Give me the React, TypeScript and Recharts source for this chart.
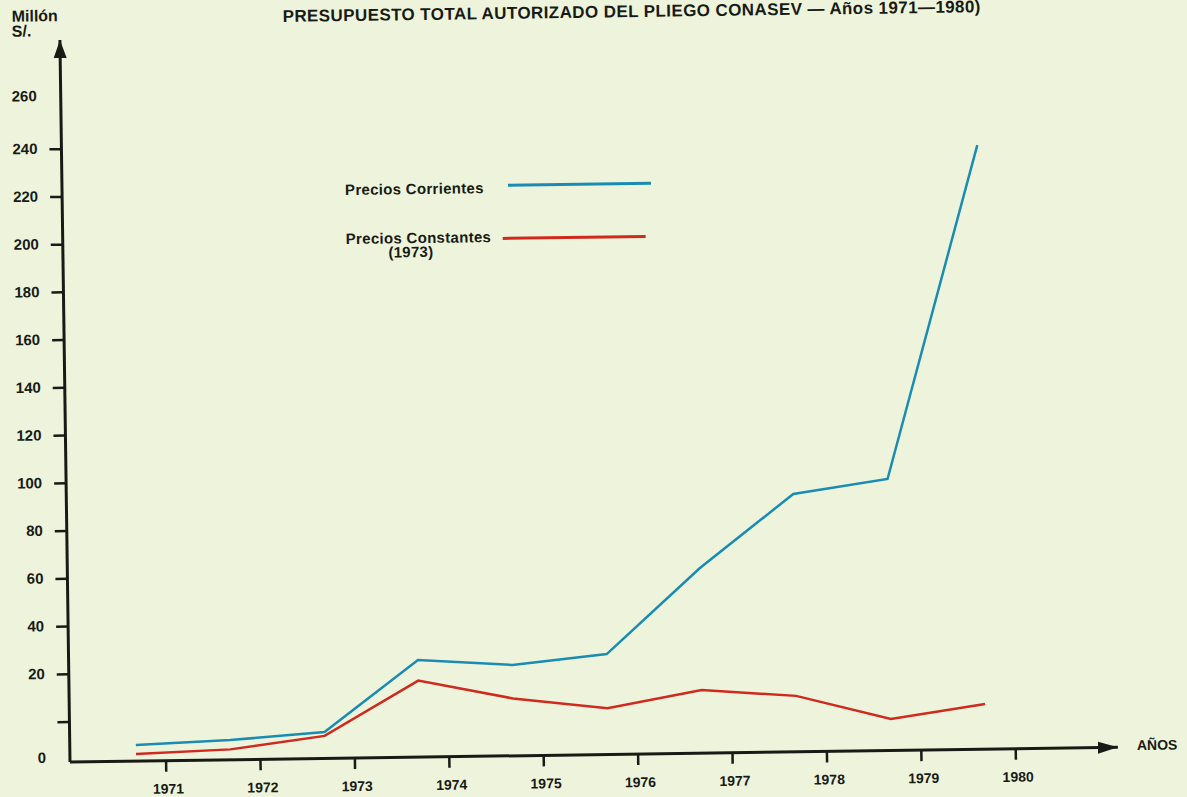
import React from "react";
import { LineChart, Line, XAxis, YAxis, Legend } from "recharts";

// años y presupuesto (millones de S/.)
const years = [1971, 1972, 1973, 1974, 1975, 1976, 1977, 1978, 1979, 1980];
const corrientes = [-10.0, -8.5, -5.7, 23.9, 21.3, 25.3, 60.8, 91.3, 97.0, 236.3];
const constantes = [-13.8, -12.4, -7.3, 15.3, 7.3, 2.6, 9.7, 6.7, -3.5, 2.2];

// the drawing puts its "0" label on the baseline, below the real zero tick
const Y_BOTTOM = -16.75;
const Y_TOP = 285.7;
const yTicks = [Y_BOTTOM, 0, 20, 40, 60, 80, 100, 120, 140, 160, 180, 200, 220, 240, 260];
const yTickLabels = ["0", "", "20", "40", "60", "80", "100", "120", "140", "160", "180", "200", "220", "240", "260"];

const TITLE = "PRESUPUESTO TOTAL AUTORIZADO DEL PLIEGO CONASEV — Años 1971—1980)";
const FONT = '"Liberation Sans", Arial, sans-serif';
const INK = "#181b15";
const BLUE = "#1a8cb3";
const RED = "#d02a1f";
const PAPER = "#eef4dc";

const data = years.map((year, i) => ({
  year,
  corrientes: corrientes[i],
  constantes: constantes[i],
}));

function YTick(props: any) {
  const { x, y, payload } = props;
  const i = yTicks.indexOf(payload.value);
  const label = yTickLabels[i] ?? "";
  const hasMark = payload.value !== Y_BOTTOM && payload.value !== 260;
  const dy = payload.value === 260 ? -6 : payload.value === Y_BOTTOM ? -5 : -1;
  return (
    <g>
      {hasMark && <line x1={x - 12} y1={y} x2={x} y2={y} stroke={INK} strokeWidth={2.5} />}
      {label && (
        <text
          x={x - 24}
          y={y + dy}
          textAnchor="end"
          dominantBaseline="central"
          fontFamily={FONT}
          fontWeight={700}
          fontSize={15}
          fill={INK}
        >
          {label}
        </text>
      )}
    </g>
  );
}

function XTick(props: any) {
  const { x, y, payload } = props;
  // year marks sit ~30px right of the plotted points in the original
  return (
    <g>
      <line x1={x + 30} y1={y} x2={x + 30} y2={y + 11} stroke={INK} strokeWidth={2.5} />
      <text
        x={x + 32}
        y={y + 28}
        textAnchor="middle"
        dominantBaseline="central"
        fontFamily={FONT}
        fontWeight={700}
        fontSize={14}
        fill={INK}
      >
        {payload.value}
      </text>
    </g>
  );
}

function LegendBox(props: any) {
  const items = props.payload || [];
  return (
    <div style={{ position: "relative", width: 330, height: 80, fontFamily: FONT, fontWeight: 700, fontSize: 15, color: INK }}>
      {items.map((it: any) => {
        const first = it.dataKey === "corrientes";
        const [main, sub] = String(it.value).split(" (");
        const top = first ? 14 : 63;
        const lineY = first ? 11 : 64;
        const lineX = first ? 163 : 157;
        return (
          <React.Fragment key={it.dataKey}>
            <div style={{ position: "absolute", left: 0, top: top - 7, lineHeight: "14px", whiteSpace: "nowrap", letterSpacing: 0.3 }}>
              {main}
            </div>
            {sub && (
              <div style={{ position: "absolute", left: 15, width: 100, textAlign: "center", top: top + 7, lineHeight: "14px", letterSpacing: 0.3 }}>
                ({sub}
              </div>
            )}
            <div
              style={{
                position: "absolute",
                left: lineX,
                top: lineY - 1.5,
                width: 143,
                height: 3,
                background: it.color,
              }}
            />
          </React.Fragment>
        );
      })}
    </div>
  );
}

export default function App() {
  return (
    <div style={{ position: "absolute", left: 0, top: 0, width: 1187, height: 797, background: PAPER, overflow: "hidden" }}>
      <svg width={0} height={0} style={{ position: "absolute" }}>
        <defs>
          <marker id="arrowX" markerUnits="userSpaceOnUse" markerWidth={22} markerHeight={14} refX={20} refY={7} orient="auto">
            <path d="M0,1 L20,7 L0,13 Z" fill={INK} />
          </marker>
          <marker id="arrowY" markerUnits="userSpaceOnUse" markerWidth={20} markerHeight={15} refX={18} refY={7} orient="auto-start-reverse">
            <path d="M0,0.5 L18,7 L0,13.5 Z" fill={INK} />
          </marker>
        </defs>
      </svg>
      <div
        style={{
          position: "absolute",
          left: 0,
          top: 0,
          width: 1187,
          height: 797,
          transform: "rotate(-0.8deg)",
          transformOrigin: "70px 762px",
        }}
      >
        <div
          style={{
            position: "absolute",
            left: 293,
            top: 13,
            lineHeight: "14px",
            fontFamily: FONT,
            fontWeight: 700,
            fontSize: 17,
            letterSpacing: 0.4,
            color: INK,
            whiteSpace: "nowrap",
          }}
        >
          {TITLE}
        </div>
        <div style={{ position: "absolute", left: 22, top: 8, lineHeight: "15px", fontFamily: FONT, fontWeight: 700, fontSize: 16, color: INK }}>
          Millón
          <br />
          S/.
        </div>
        <div style={{ position: "absolute", left: 1137, top: 752, lineHeight: "16px", fontFamily: FONT, fontWeight: 700, fontSize: 14, color: INK }}>
          AÑOS
        </div>
        <LineChart width={1187} height={797} data={data} margin={{ top: 40, right: 69, left: 0, bottom: 0 }}>
          <XAxis
            dataKey="year"
            type="number"
            domain={[1970.3, 1981.4]}
            allowDataOverflow
            ticks={years}
            interval={0}
            tickSize={0}
            tickMargin={0}
            tickLine={false}
            tick={<XTick />}
            height={35}
            axisLine={{ stroke: INK, strokeWidth: 3, markerEnd: "url(#arrowX)" }}
          />
          <YAxis
            type="number"
            domain={[Y_BOTTOM, Y_TOP]}
            allowDataOverflow
            ticks={yTicks}
            interval={0}
            tickSize={0}
            tickMargin={0}
            tickLine={false}
            tick={<YTick />}
            width={70}
            axisLine={{ stroke: INK, strokeWidth: 3, markerStart: "url(#arrowY)" }}
          />
          <Legend
            layout="horizontal"
            verticalAlign="middle"
            align="center"
            content={<LegendBox />}
            wrapperStyle={{ left: 353, top: 180, width: 330, height: 80 }}
          />
          <Line
            type="linear"
            dataKey="corrientes"
            name="Precios Corrientes"
            stroke={BLUE}
            strokeWidth={2.5}
            dot={false}
            isAnimationActive={false}
          />
          <Line
            type="linear"
            dataKey="constantes"
            name="Precios Constantes (1973)"
            stroke={RED}
            strokeWidth={2.5}
            dot={false}
            isAnimationActive={false}
          />
        </LineChart>
      </div>
    </div>
  );
}
